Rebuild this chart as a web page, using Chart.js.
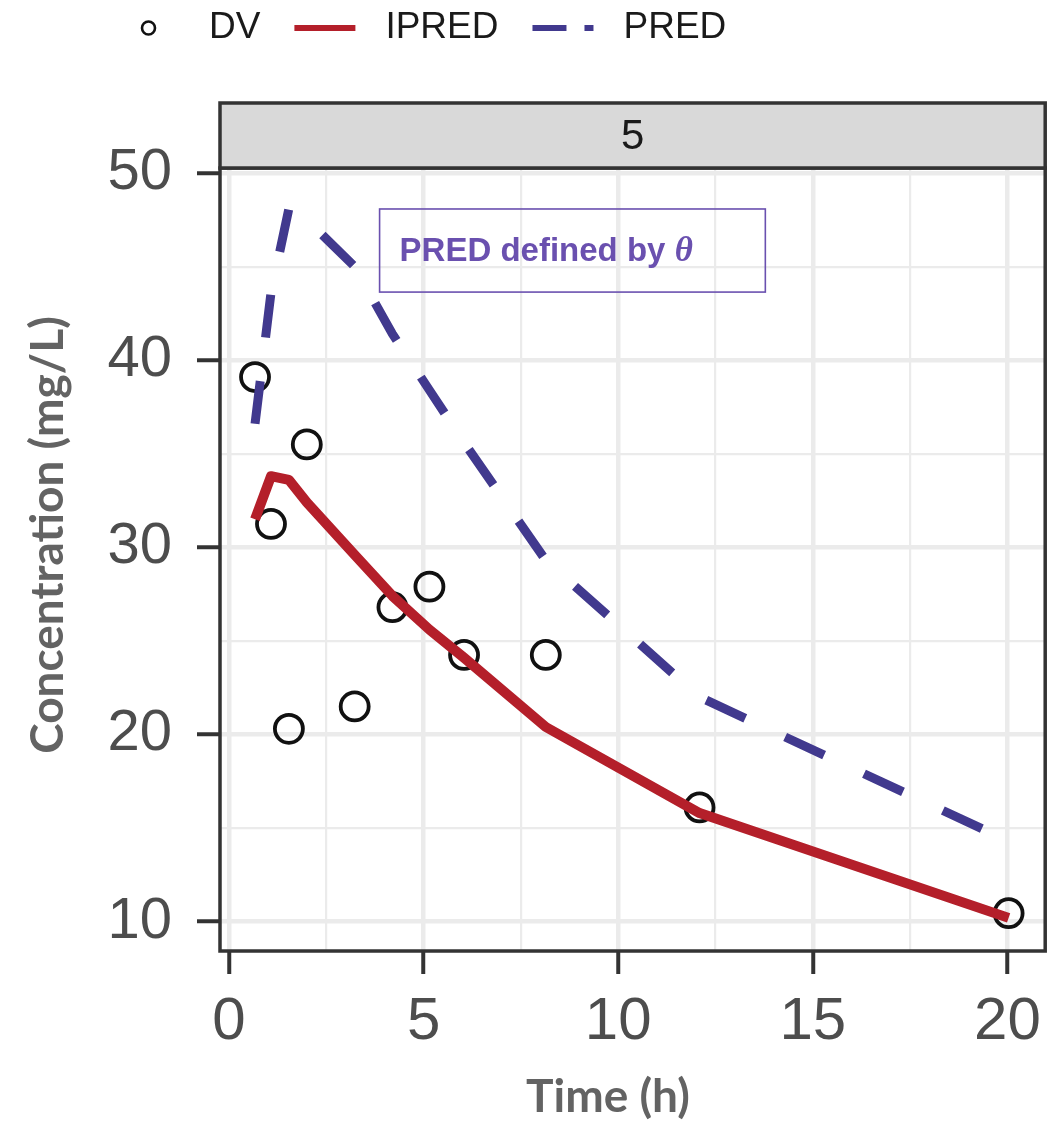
<!DOCTYPE html>
<html>
<head>
<meta charset="utf-8">
<script src="https://cdn.jsdelivr.net/npm/chart.js@4/dist/chart.umd.min.js"></script>
<style>
  html, body { margin: 0; padding: 0; background: #ffffff; }
  canvas { display: block; }
</style>
</head>
<body>
<canvas id="c" width="1063" height="1121"></canvas>
<script>
// Sampling times (h) and concentrations (mg/L)
const times = [0.67, 1.08, 1.54, 2.00, 3.23, 4.20, 5.15, 6.04, 8.14, 12.09, 20.03];
const dv    = [39.1, 31.25, 20.3, 35.5, 21.5, 26.8, 27.9, 24.25, 24.25, 16.1, 10.45];
const ipred = [31.5, 33.8, 33.6, 32.4, 29.6, 27.4, 25.6, 24.1, 20.4, 15.8, 10.2];
const pred  = [36.6, 43.6, 48.1, 47.5, 45.0, 41.4, 38.4, 35.6, 29.3, 22.0, 14.3];

// Axis ticks
const xTicks = [0, 5, 10, 15, 20];
const xTickLabels = ['0', '5', '10', '15', '20'];
const xMinor = [2.5, 7.5, 12.5, 17.5];
const yTicks = [10, 20, 30, 40, 50];
const yTickLabels = ['10', '20', '30', '40', '50'];
const yMinor = [15, 25, 35, 45];

// Text
const seriesNames = ['DV', 'IPRED', 'PRED'];
const xTitle = 'Time (h)';
const yTitle = 'Concentration (mg/L)';
const stripLabel = '5';
const noteText = 'PRED defined by ';
const noteSymbol = 'θ';
// Note box extent in data units: [x0, x1], [y0, y1]
const noteX = [3.87, 13.78];
const noteY = [43.64, 48.08];

const RED = '#B41F2A';
const BLUE = '#41398E';
const PURPLE = '#6A50AF';
const GRID = '#ebebeb';
const FRAME = '#333333';
const TICKTXT = '#4d4d4d';
const TITLETXT = '#636363';

const pts = (ys) => times.map((t, i) => ({ x: t, y: ys[i] }));

const panelDecor = {
  id: 'panelDecor',
  afterDatasetsDraw(chart) {
    const { ctx, chartArea: a, scales } = chart;
    const xs = scales.x, ys = scales.y;
    ctx.save();

    // annotation box
    const bx0 = xs.getPixelForValue(noteX[0]);
    const bx1 = xs.getPixelForValue(noteX[1]);
    const by0 = ys.getPixelForValue(noteY[1]);
    const by1 = ys.getPixelForValue(noteY[0]);
    ctx.strokeStyle = PURPLE;
    ctx.lineWidth = 1.6;
    ctx.strokeRect(bx0, by0, bx1 - bx0, by1 - by0);
    ctx.fillStyle = PURPLE;
    ctx.textBaseline = 'middle';
    ctx.textAlign = 'left';
    ctx.font = 'bold 33px "Liberation Sans", Arial, sans-serif';
    const ty = (by0 + by1) / 2 + 1;
    ctx.fillText(noteText, bx0 + 20, ty);
    const w = ctx.measureText(noteText).width;
    ctx.font = 'bold italic 35px "Liberation Serif", "DejaVu Serif", serif';
    ctx.fillText(noteSymbol, bx0 + 20 + w, ty);

    // panel frame
    ctx.strokeStyle = FRAME;
    ctx.lineWidth = 3.5;
    ctx.strokeRect(a.left, a.top, a.right - a.left, a.bottom - a.top);

    // facet strip
    const sh = 65;
    ctx.fillStyle = '#d9d9d9';
    ctx.fillRect(a.left, a.top - sh, a.right - a.left, sh);
    ctx.strokeRect(a.left, a.top - sh, a.right - a.left, sh);
    ctx.fillStyle = '#1a1a1a';
    ctx.font = '42px "Liberation Sans", Arial, sans-serif';
    ctx.textAlign = 'center';
    ctx.textBaseline = 'middle';
    ctx.fillText(stripLabel, (a.left + a.right) / 2, a.top - sh / 2 + 2);

    // axis titles
    ctx.fillStyle = TITLETXT;
    ctx.font = 'bold 46px Lato, "Liberation Sans", sans-serif';
    ctx.fillText(xTitle, 608, 1097);
    ctx.save();
    ctx.translate(48, 535);
    ctx.rotate(-Math.PI / 2);
    ctx.fillText(yTitle, 0, 0);
    ctx.restore();

    // legend row
    const ly = 28;
    let lx = 118;
    const keyW = 61;
    ctx.font = '37px "Liberation Sans", Arial, sans-serif';
    ctx.textAlign = 'left';
    chart.data.datasets.forEach((ds, i) => {
      ctx.save();
      ctx.strokeStyle = ds.borderColor;
      if (i === 0) {
        ctx.lineWidth = 2.6;
        ctx.beginPath();
        ctx.arc(lx + keyW / 2, ly, 6.5, 0, Math.PI * 2);
        ctx.stroke();
      } else {
        ctx.lineWidth = 6;
        ctx.setLineDash(ds.borderDash ? [34, 18] : []);
        ctx.beginPath();
        ctx.moveTo(lx, ly);
        ctx.lineTo(lx + keyW, ly);
        ctx.stroke();
      }
      ctx.restore();
      ctx.fillStyle = '#1a1a1a';
      ctx.fillText(ds.label, lx + keyW + 30, ly);
      lx += keyW + 30 + ctx.measureText(ds.label).width + 34;
    });
    ctx.restore();
  }
};

const isIn = (arr, v) => arr.some(a => Math.abs(a - v) < 1e-9);

new Chart(document.getElementById('c'), {
  type: 'scatter',
  data: {
    datasets: [
      {
        label: seriesNames[0],
        data: pts(dv),
        showLine: false,
        pointStyle: 'circle',
        pointRadius: 14,
        pointBorderWidth: 3.8,
        borderColor: '#111111',
        pointBorderColor: '#111111',
        backgroundColor: 'rgba(0,0,0,0)',
        pointBackgroundColor: 'rgba(0,0,0,0)',
        order: 3
      },
      {
        label: seriesNames[1],
        data: pts(ipred),
        showLine: true,
        borderColor: RED,
        borderWidth: 10,
        pointRadius: 0,
        tension: 0,
        borderJoinStyle: 'round',
        order: 2
      },
      {
        label: seriesNames[2],
        data: pts(pred),
        showLine: true,
        borderColor: BLUE,
        borderWidth: 9,
        borderDash: [43, 44],
        pointRadius: 0,
        tension: 0,
        order: 1
      }
    ]
  },
  options: {
    responsive: false,
    animation: false,
    devicePixelRatio: 1,
    layout: { padding: { top: 168, right: 15, left: 0, bottom: 0 } },
    plugins: {
      legend: { display: false },
      tooltip: { enabled: false }
    },
    scales: {
      x: {
        type: 'linear',
        min: -0.23,
        max: 20.97,
        afterFit: (s) => { s.height = 170; },
        afterBuildTicks: (s) => {
          s.ticks = [...xTicks, ...xMinor].sort((a, b) => a - b).map(v => ({ value: v }));
        },
        border: { display: false },
        grid: {
          color: GRID,
          lineWidth: (c) => (c.tick && isIn(xTicks, c.tick.value)) ? 4.5 : 2.2,
          tickColor: (c) => (c.tick && isIn(xTicks, c.tick.value)) ? FRAME : 'rgba(0,0,0,0)',
          tickWidth: 4,
          tickLength: 23,
          drawTicks: true
        },
        ticks: {
          autoSkip: false,
          maxRotation: 0,
          padding: 12,
          color: TICKTXT,
          font: { family: '"Liberation Sans", Arial, sans-serif', size: 60 },
          callback: (v) => {
            const i = xTicks.findIndex(t => Math.abs(t - v) < 1e-9);
            return i >= 0 ? xTickLabels[i] : '';
          }
        }
      },
      y: {
        type: 'linear',
        min: 8.43,
        max: 50.27,
        afterFit: (s) => { s.width = 220; },
        afterBuildTicks: (s) => {
          s.ticks = [...yTicks, ...yMinor].sort((a, b) => a - b).map(v => ({ value: v }));
        },
        border: { display: false },
        grid: {
          color: GRID,
          lineWidth: (c) => (c.tick && isIn(yTicks, c.tick.value)) ? 4.5 : 2.2,
          tickColor: (c) => (c.tick && isIn(yTicks, c.tick.value)) ? FRAME : 'rgba(0,0,0,0)',
          tickWidth: 4,
          tickLength: 23,
          drawTicks: true
        },
        ticks: {
          autoSkip: false,
          padding: 25,
          color: TICKTXT,
          font: { family: '"Liberation Sans", Arial, sans-serif', size: 58 },
          callback: (v) => {
            const i = yTicks.findIndex(t => Math.abs(t - v) < 1e-9);
            return i >= 0 ? yTickLabels[i] : '';
          }
        }
      }
    }
  },
  plugins: [panelDecor]
});
</script>
</body>
</html>
